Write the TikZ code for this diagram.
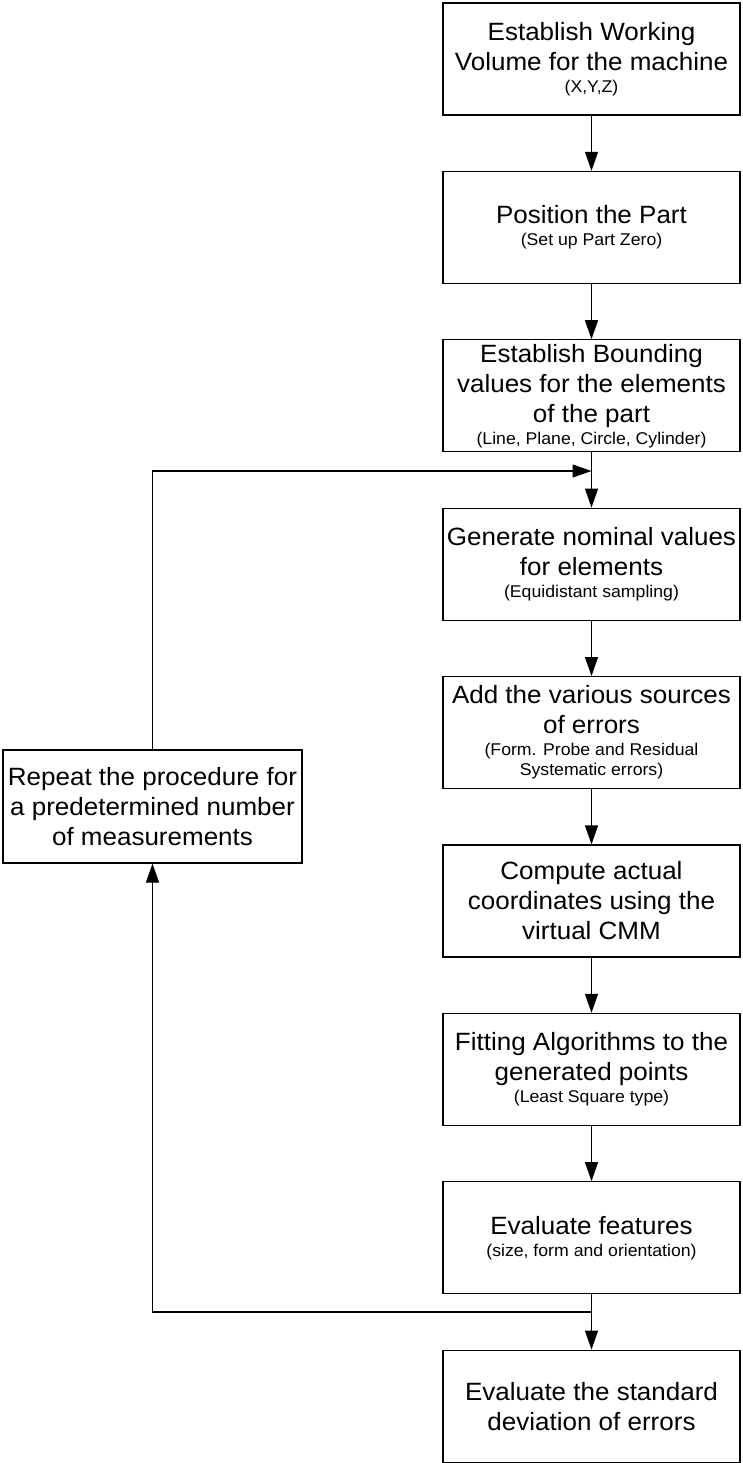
\documentclass[tikz,border=0pt]{standalone}
\usepackage{fontspec}
\setmainfont{Liberation Sans}[FakeStretch=1.04]
\usetikzlibrary{arrows.meta}
\newcommand\smalltxt[1]{{\fontsize{17}{20}\selectfont #1}}
\begin{document}
\begin{tikzpicture}[x=1pt,y=1pt,
  box/.style={draw, line width=1.2pt, minimum width=297pt, minimum height=112pt,
    inner sep=0pt, align=center, font=\fontsize{25}{30}\selectfont},
  link/.style={line width=1.2pt, -{Triangle[width=13pt,length=19pt]}}]
\useasboundingbox (0,0) rectangle (742,-1463);
\node[box] (b1) at (591.5,-59) {Establish Working\\Volume for the machine\\[-8pt]\smalltxt{(X,Y,Z)}};
\node[box] (b2) at (591.5,-227.4) {Position the Part\\[-8pt]\smalltxt{(Set up Part Zero)}};
\node[box] (b3) at (591.5,-395.8) {Establish Bounding\\values for the elements\\of the part\\[-8pt]\smalltxt{(Line, Plane, Circle, Cylinder)}};
\node[box] (b4) at (591.5,-564.2) {Generate nominal values\\for elements\\[-8pt]\smalltxt{(Equidistant sampling)}};
\node[box] (b5) at (591.5,-732.6) {Add the various sources\\of errors\\[-8pt]\smalltxt{(Form. Probe and Residual}\\[-10pt]\smalltxt{Systematic errors)}};
\node[box] (b6) at (591.5,-901) {Compute actual\\coordinates using the\\virtual CMM};
\node[box] (b7) at (591.5,-1069.4) {Fitting Algorithms to the\\generated points\\[-8pt]\smalltxt{(Least Square type)}};
\node[box] (b8) at (591.5,-1237.8) {Evaluate features\\[-8pt]\smalltxt{(size, form and orientation)}};
\node[box] (b9) at (591.5,-1406.2) {Evaluate the standard\\deviation of errors};
\node[box, minimum width=299pt, minimum height=113pt] (rep) at (152.5,-806.5) {Repeat the procedure for\\a predetermined number\\of measurements};
\coordinate (j1) at (591.5,-471);
\coordinate (j2) at (591.5,-1312);
\draw[link] (b1.south) -- (b2.north);
\draw[link] (b2.south) -- (b3.north);
\draw[link] (b3.south) -- (b4.north);
\draw[link] (b4.south) -- (b5.north);
\draw[link] (b5.south) -- (b6.north);
\draw[link] (b6.south) -- (b7.north);
\draw[link] (b7.south) -- (b8.north);
\draw[link] (b8.south) -- (b9.north);
\draw[link] (j2) -| (rep.south);
\draw[link] (rep.north) |- (j1);
\end{tikzpicture}
\end{document}
